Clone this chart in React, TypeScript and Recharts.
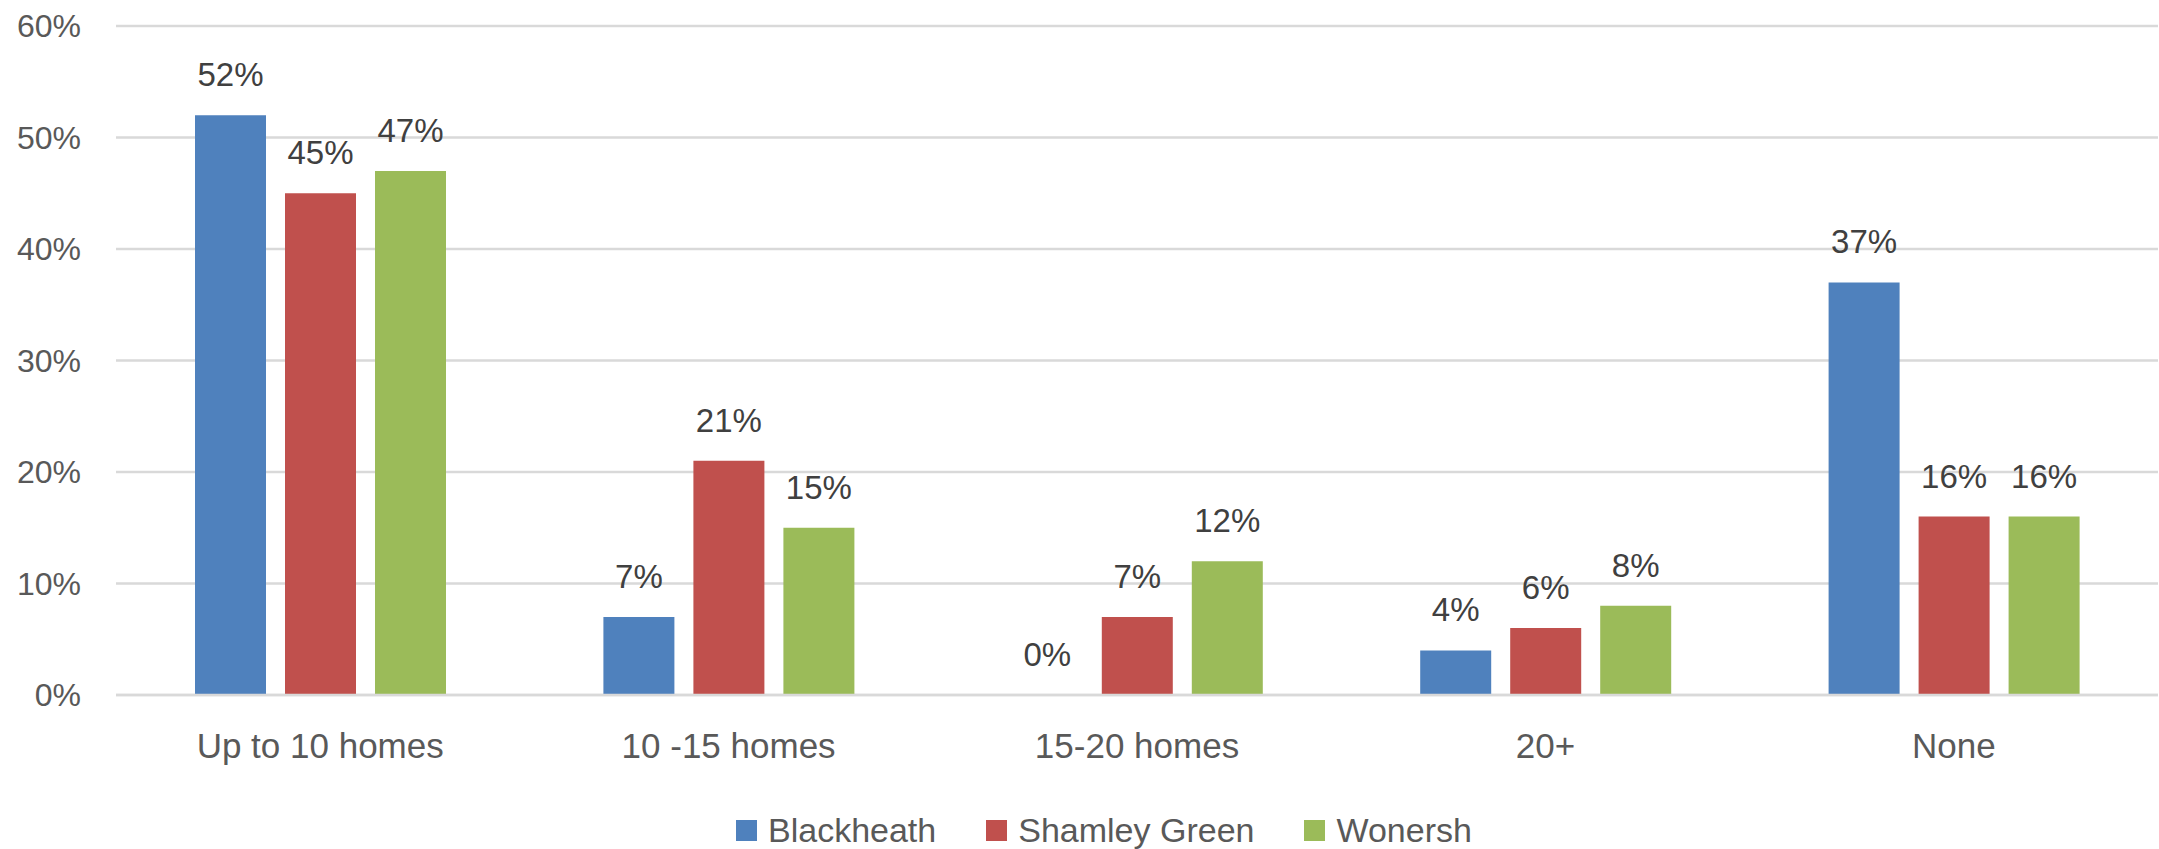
import React from "react";
import { BarChart, Bar, XAxis, YAxis, CartesianGrid, LabelList } from "recharts";

const categories = ["Up to 10 homes", "10 -15 homes", "15-20 homes", "20+", "None"];
const seriesNames = ["Blackheath", "Shamley Green", "Wonersh"];
const seriesColors = ["#4F81BD", "#C0504D", "#9BBB59"];
const blackheath = [52, 7, 0, 4, 37];
const shamleyGreen = [45, 21, 7, 6, 16];
const wonersh = [47, 15, 12, 8, 16];
const yTicks = [0, 10, 20, 30, 40, 50, 60];

const seriesValues = [blackheath, shamleyGreen, wonersh];
const data = categories.map((c, i) => {
  const row: Record<string, string | number> = { category: c };
  seriesNames.forEach((s, j) => {
    row[s] = seriesValues[j][i];
  });
  return row;
});

const FONT = "'Liberation Sans', Arial, sans-serif";
const W = 2159;
const H = 849;

export default function App() {
  return (
    <div style={{ position: "relative", width: W, height: H, background: "#fff", fontFamily: FONT }}>
      <style>{`body{margin:0;}`}</style>
      <BarChart
        width={W}
        height={H}
        data={data}
        margin={{ top: 26, right: 1, bottom: 0, left: 0 }}
        barSize={71}
        barGap={19}
      >
        <CartesianGrid vertical={false} stroke="#D9D9D9" strokeWidth={2.5} />
        {seriesNames.map((s, j) => (
          <Bar key={s} dataKey={s} fill={seriesColors[j]} minPointSize={0.5} isAnimationActive={false}>
            <LabelList
              dataKey={s}
              position="top"
              offset={29}
              formatter={(v: number) => `${v}%`}
              style={{ fill: "#404040", fontSize: 33, fontFamily: FONT }}
            />
          </Bar>
        ))}
        <XAxis
          dataKey="category"
          height={154}
          tickLine={false}
          tickSize={0}
          tickMargin={38}
          axisLine={{ stroke: "#D9D9D9", strokeWidth: 2.5 }}
          tick={{ fill: "#595959", fontSize: 35, fontFamily: FONT }}
          interval={0}
        />
        <YAxis
          width={116}
          domain={[0, 60]}
          ticks={yTicks}
          tickFormatter={(v: number) => `${v}%`}
          axisLine={false}
          tickLine={false}
          tickSize={0}
          tickMargin={35}
          tick={{ fill: "#595959", fontSize: 32, fontFamily: FONT }}
        />
      </BarChart>
      <div
        style={{
          position: "absolute",
          left: 736,
          top: 813,
          height: 34,
          display: "flex",
          alignItems: "center",
          fontSize: 34,
          lineHeight: "34px",
          color: "#595959",
          whiteSpace: "nowrap",
        }}
      >
        {seriesNames.map((s, j) => (
          <div key={s} style={{ display: "flex", alignItems: "center", marginRight: 50 }}>
            <span style={{ display: "inline-block", width: 21, height: 21, background: seriesColors[j], marginRight: 11 }} />
            <span>{s}</span>
          </div>
        ))}
      </div>
    </div>
  );
}
